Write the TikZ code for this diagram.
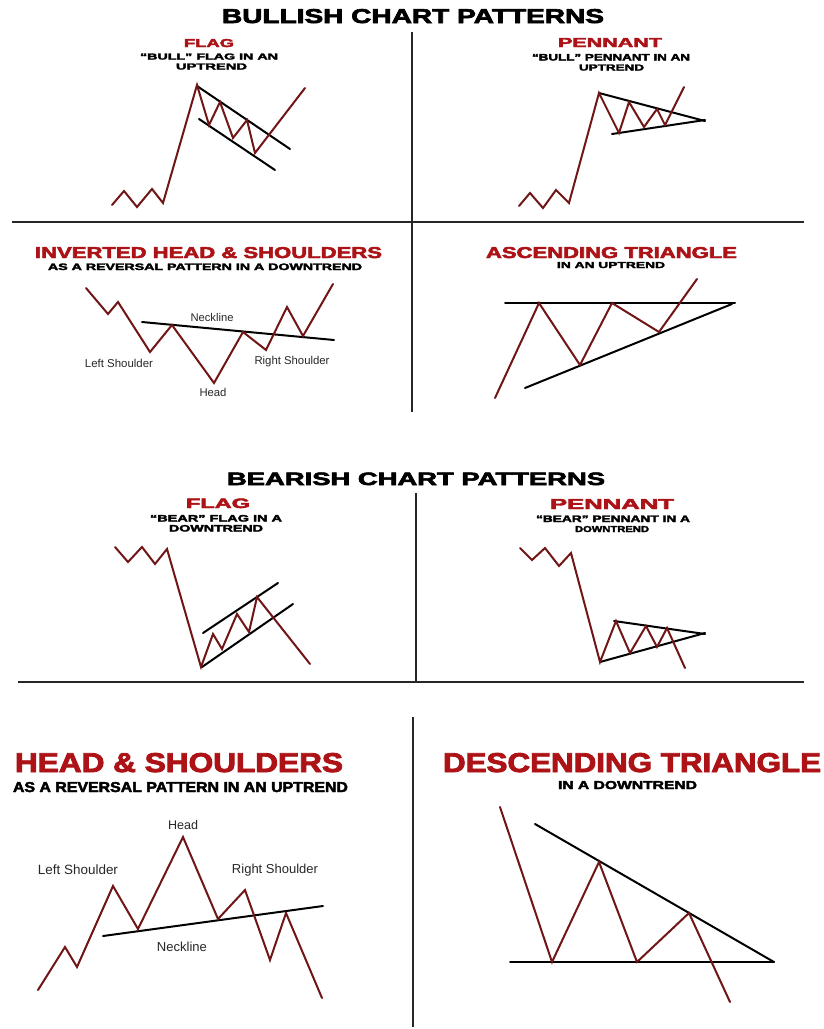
\documentclass[tikz,border=0pt]{standalone}
\usepackage{fontspec}
\usepackage{graphicx}
\setmainfont{Liberation Sans}
\newfontfamily\heavy{Liberation Sans Bold}[FakeBold=3]
\definecolor{tred}{RGB}{172,18,22}
\definecolor{cline}{RGB}{112,22,22}
\definecolor{lblc}{RGB}{40,40,40}
% style, name, x, ybase, width, height, text
\newcommand\fitttl[7]{\node[#1] (#2) at (#3,#4) {\resizebox{#5pt}{#6pt}{\heavy #7}};}
% name, x, y, width, text
\newcommand\fitlbl[5]{\node[lbl] (#1) at (#2,#3) {\resizebox{#4pt}{!}{#5}};}
\begin{document}
\begin{tikzpicture}[x=1pt,y=-1pt,
  ttl/.style={anchor=base west,inner sep=0pt,outer sep=0pt},
  redttl/.style={ttl,text=tred},
  blkttl/.style={ttl,text=black},
  lbl/.style={inner sep=0pt,text=lblc},
  price/.style={draw=cline,line width=2pt,line join=miter,line cap=round},
  trend/.style={draw=black,line width=2pt,line cap=round},
  divider/.style={draw=black!85,line width=2.4pt}]
\useasboundingbox[fill=white] (0,0) rectangle (823,1029);

% ---------- dividers ----------
\coordinate (v1a) at (412,32); \coordinate (v1b) at (412,412);
\coordinate (h1a) at (12,222); \coordinate (h1b) at (804,222);
\coordinate (v2a) at (416,493); \coordinate (v2b) at (416,682);
\coordinate (h2a) at (18,682); \coordinate (h2b) at (804,682);
\coordinate (v3a) at (413,717); \coordinate (v3b) at (413,1027);
\draw[divider] (v1a) -- (v1b);
\draw[divider] (h1a) -- (h1b);
\draw[divider] (v2a) -- (v2b);
\draw[divider] (h2a) -- (h2b);
\draw[divider] (v3a) -- (v3b);

% ---------- titles ----------
\fitttl{blkttl}{t1}{222}{23}{382}{14}{BULLISH CHART PATTERNS}
\fitttl{redttl}{t2}{184}{47}{50}{8}{FLAG}
\fitttl{blkttl}{t3}{140}{59.5}{138}{6}{“BULL” FLAG IN AN}
\fitttl{blkttl}{t4}{176}{69.5}{71}{6}{UPTREND}
\fitttl{redttl}{t5}{558}{47}{104}{9}{PENNANT}
\fitttl{blkttl}{t6}{532}{60.5}{158}{6.5}{“BULL” PENNANT IN AN}
\fitttl{blkttl}{t7}{579}{70.5}{65}{6}{UPTREND}
\fitttl{redttl}{t8}{35}{258}{347}{11}{INVERTED HEAD \& SHOULDERS}
\fitttl{blkttl}{t9}{48}{270}{314}{6.5}{AS A REVERSAL PATTERN IN A DOWNTREND}
\fitttl{redttl}{t10}{486}{258}{251}{11}{ASCENDING TRIANGLE}
\fitttl{blkttl}{t11}{557}{268}{108}{6}{IN AN UPTREND}
\fitttl{blkttl}{t12}{227}{485}{378}{12.5}{BEARISH CHART PATTERNS}
\fitttl{redttl}{t13}{186}{508}{64}{9.5}{FLAG}
\fitttl{blkttl}{t14}{150}{521.5}{132}{6.5}{“BEAR” FLAG IN A}
\fitttl{blkttl}{t15}{169}{531.5}{94}{6.5}{DOWNTREND}
\fitttl{redttl}{t16}{550}{509}{124}{10}{PENNANT}
\fitttl{blkttl}{t17}{536}{522}{154}{6.5}{“BEAR” PENNANT IN A}
\fitttl{blkttl}{t18}{575}{532}{74}{6}{DOWNTREND}
\fitttl{redttl}{t19}{15}{772}{328}{19}{HEAD \& SHOULDERS}
\fitttl{blkttl}{t20}{13}{792}{335}{10}{AS A REVERSAL PATTERN IN AN UPTREND}
\fitttl{redttl}{t21}{443}{772}{378}{19}{DESCENDING TRIANGLE}
\fitttl{blkttl}{t22}{558}{789}{139}{8}{IN A DOWNTREND}

% ---------- bull flag ----------
\draw[trend] (197,86) -- (290,149);
\draw[trend] (199,119) -- (275,170);
\draw[price] (112,205) -- (124,191) -- (137,207) -- (152,189) -- (163,203)
  -- (197,85) -- (209,125) -- (220,102) -- (233,138) -- (247,120) -- (255,153) -- (305,88);

% ---------- bull pennant ----------
\draw[trend] (599,93) -- (705,121);
\draw[trend] (612,134) -- (705,120);
\draw[price] (519,206) -- (530,193) -- (543,208) -- (556,190) -- (569,203)
  -- (599,93) -- (619,133) -- (629,102) -- (644,127) -- (657,109) -- (665,125) -- (684,87);

% ---------- inverted head & shoulders ----------
\draw[trend] (142,322) -- (334,340);
\draw[price] (86,288) -- (108,314) -- (118,302) -- (150,352) -- (172,325) -- (214,383)
  -- (243,332) -- (266,350) -- (287,307) -- (303,336) -- (333,284);
\fitlbl{l1}{212}{317}{43}{Neckline}
\fitlbl{l2}{119}{363}{68}{Left Shoulder}
\fitlbl{l3}{292}{362}{75}{Right Shoulder}
\fitlbl{l4}{213}{392}{27}{Head}

% ---------- ascending triangle ----------
\draw[trend] (505,303) -- (735,303);
\draw[trend] (525,388) -- (732,304);
\draw[price] (495,398) -- (539,303) -- (580,365) -- (612,303) -- (659,332) -- (697,279);

% ---------- bear flag ----------
\draw[trend] (203,633) -- (278,583);
\draw[trend] (202,667) -- (293,604);
\draw[price] (115,547) -- (128,562) -- (142,547) -- (155,564) -- (167,549)
  -- (201,667) -- (213,634) -- (222,649) -- (237,614) -- (249,632) -- (257,597) -- (310,664);

% ---------- bear pennant ----------
\draw[trend] (614,621) -- (705,634);
\draw[trend] (600,662) -- (705,633);
\draw[price] (520,548) -- (532,560) -- (545,548) -- (559,566) -- (571,553)
  -- (600,662) -- (616,621) -- (630,653) -- (646,626) -- (657,647) -- (667,628) -- (685,668);

% ---------- head & shoulders ----------
\draw[trend] (103,936) -- (323,906);
\draw[price] (38,990) -- (65,947) -- (77,967) -- (113,886) -- (138,929) -- (183,837)
  -- (218,919) -- (245,890) -- (270,960) -- (286,913) -- (322,998);
\fitlbl{l5}{183}{825}{30}{Head}
\fitlbl{l6}{78}{870}{80}{Left Shoulder}
\fitlbl{l7}{275}{870}{86}{Right Shoulder}
\fitlbl{l8}{182}{947}{50}{Neckline}

% ---------- descending triangle ----------
\draw[trend] (535,824) -- (774,962);
\draw[trend] (510,962) -- (774,962);
\draw[price] (500,807) -- (552,962) -- (599,862) -- (637,962) -- (689,913) -- (730,1002);
\end{tikzpicture}
\end{document}
